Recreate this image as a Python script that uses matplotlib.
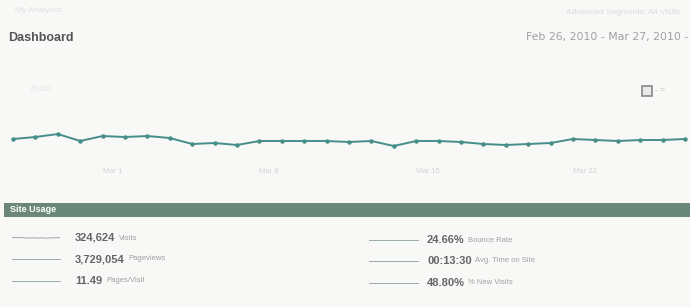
import matplotlib.pyplot as plt
from matplotlib.patches import Rectangle

plt.rcParams['font.family'] = ['Liberation Sans', 'DejaVu Sans']

# daily visits, Feb 25 - Mar 27 2010
visits = [8760, 9140, 9710, 8380, 9330, 9140, 9330, 8950, 7810, 8000,
          7620, 8380, 8380, 8380, 8380, 8190, 8380, 7430, 8380, 8380,
          8190, 7810, 7620, 7810, 8000, 8760, 8570, 8380, 8570, 8570, 8760]
tick_pos = [4, 11, 18, 25]
tick_labels = ['Mar 1', 'Mar 8', 'Mar 15', 'Mar 22']

left_vals = ['324,624', '3,729,054', '11.49']
left_names = ['Visits', 'Pageviews', 'Pages/Visit']
right_vals = ['24.66%', '00:13:30', '48.80%']
right_names = ['Bounce Rate', 'Avg. Time on Site', '% New Visits']

W, H = 690, 307
bg = '#f8f8f6'
teal = '#468e8a'


def fx(x):
    return x / W


def fy(y):
    return 1 - y / H


fig = plt.figure(figsize=(6.9, 3.07), dpi=100, facecolor=bg)

# header
fig.text(fx(15), fy(10), 'My Analytics', fontsize=6, color='#e2e2e2', va='center')
fig.text(fx(680), fy(12), 'Advanced Segments: All Visits', fontsize=6,
         color='#dcdcdc', va='center', ha='right')
fig.text(fx(8), fy(38), 'Dashboard', fontsize=9, fontweight='bold',
         color='#555555', va='center')
fig.text(fx(688), fy(37), 'Feb 26, 2010 - Mar 27, 2010 -', fontsize=7.8,
         color='#a0a0a0', va='center', ha='right', family='DejaVu Sans')

# main chart
ax = fig.add_axes([0, fy(185), 1, 105 / H])
ax.patch.set_alpha(0)
x = list(range(len(visits)))
ax.plot(x, visits, color=teal, lw=1.4, marker='o', ms=2.2, mfc=teal, mec=teal)
ax.set_xlim(-13 / 22.4, (W - 13) / 22.4)
ax.set_ylim(0, 20000)
for s in ax.spines.values():
    s.set_visible(False)
ax.set_yticks([])
ax.set_xticks(tick_pos)
ax.set_xticklabels(tick_labels, fontsize=5.5, color='#d4d4d4', ha='left')
ax.tick_params(axis='x', length=0, pad=-12)
fig.text(fx(30), fy(89), '20,000', fontsize=5, color='#e4e4e4', va='center')

# chart type icon
fig.patches.append(Rectangle((fx(642), fy(96)), fx(10), 10 / H, transform=fig.transFigure,
                             facecolor='#e8e8e8', edgecolor='#888888', lw=1.2))
fig.text(fx(655), fy(90), '- =', fontsize=6, color='#bbbbbb', va='center')

# site usage bar
fig.patches.append(Rectangle((fx(4), fy(217)), 1, 14 / H, transform=fig.transFigure,
                             facecolor='#6a877a', edgecolor='none'))
fig.text(fx(10), fy(210), 'Site Usage', fontsize=6.5, fontweight='bold',
         color='white', va='center')

left_rows = [238, 259, 281]
right_rows = [240, 261, 283]

for i in range(3):
    # sparklines
    sl = fig.add_axes([fx(10), fy(left_rows[i] + 3), fx(52), 6 / H])
    sr = fig.add_axes([fx(367), fy(right_rows[i] + 3), fx(53), 6 / H])
    for sa in (sl, sr):
        sa.axis('off')
        sa.patch.set_alpha(0)
    if i == 0:
        sl.plot(x, visits, color='#9aaaa4', lw=0.7)
        sl.set_ylim(0, 16000)
    else:
        sl.plot(x, [1] * len(x), color='#9aaaa4', lw=0.7)
        sl.set_ylim(0, 2)
    sr.plot(x, [1] * len(x), color='#9aaaa4', lw=0.7)
    sr.set_ylim(0, 2)

    t = fig.text(fx(75), fy(left_rows[i]), left_vals[i], fontsize=8, fontweight='bold',
                 color='#666666', va='center')
    fig.canvas.draw()
    bb = t.get_window_extent()
    fig.text(bb.x1 / W + fx(4), fy(left_rows[i]), left_names[i], fontsize=5.5,
             color='#a0a0a0', va='center')

    t = fig.text(fx(427), fy(right_rows[i]), right_vals[i], fontsize=8, fontweight='bold',
                 color='#666666', va='center')
    fig.canvas.draw()
    bb = t.get_window_extent()
    fig.text(bb.x1 / W + fx(3), fy(right_rows[i]), right_names[i], fontsize=5.5,
             color='#a0a0a0', va='center')

fig.savefig('out.png', dpi=100, facecolor=bg)
